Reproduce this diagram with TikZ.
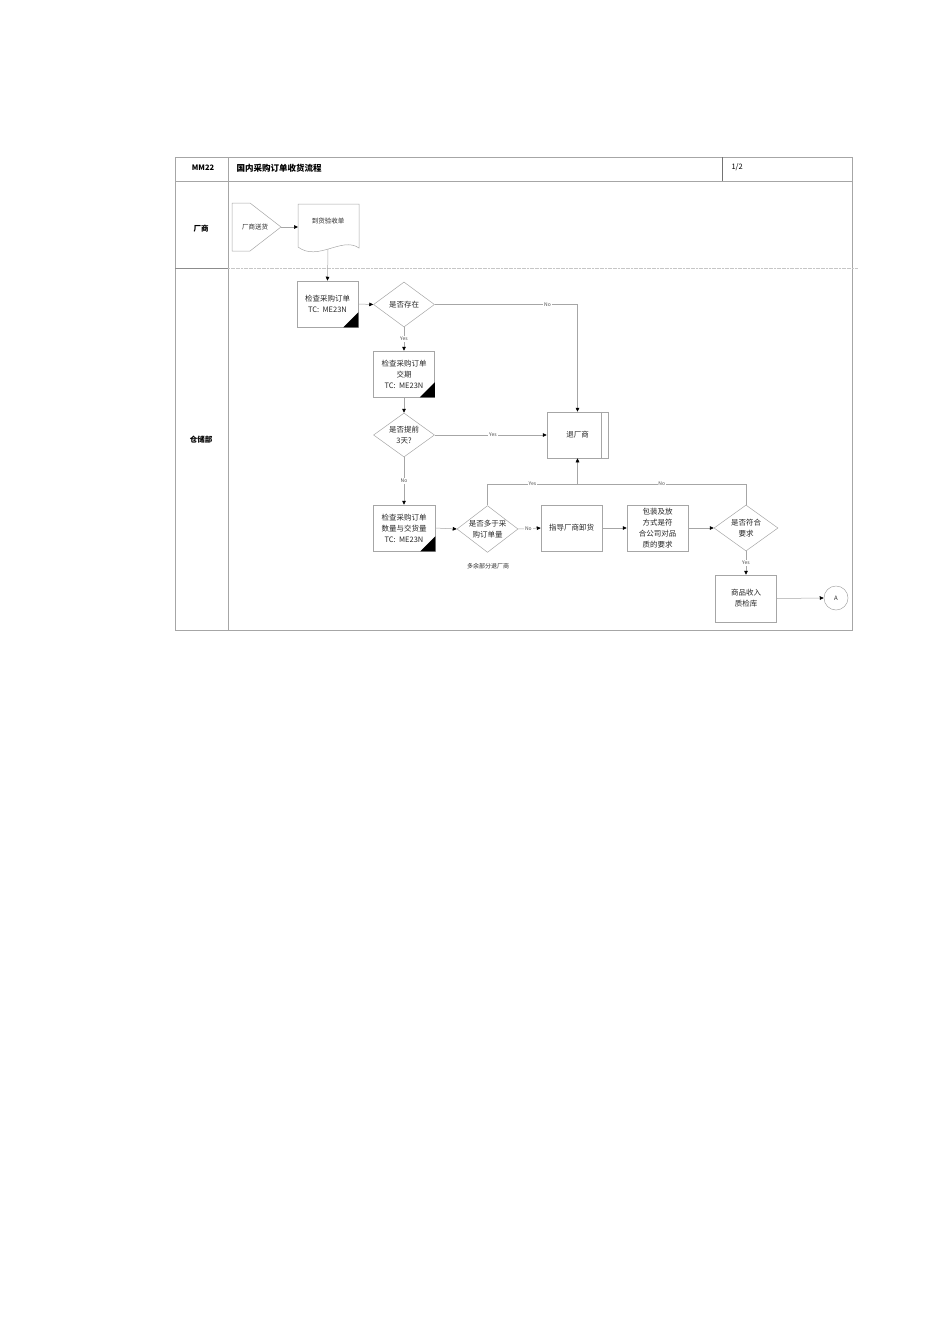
\documentclass[tikz,border=0pt]{standalone}
\usepackage{fontspec}
\newfontfamily\cjk{Noto Sans CJK SC}
\usetikzlibrary{shapes.geometric,arrows.meta}
\begin{document}
\begin{tikzpicture}[x=1pt,y=-1pt,
  line/.style={draw=gray!70,line width=0.5pt},
  arr/.style={line,-{Triangle[length=4pt,width=3.6pt,color=black]}},
  frame/.style={draw=gray!70,line width=0.6pt},
  txt/.style={font=\cjk\fontsize{7.5}{11}\selectfont,text=black!85,align=center},
  boxx/.style={txt,rectangle,draw=gray!70,line width=0.5pt,minimum width=61pt,minimum height=46pt,inner sep=1pt},
  dia/.style={txt,diamond,draw=gray!70,line width=0.5pt,minimum width=61pt,minimum height=45pt,inner sep=0pt,aspect=1.3},
  lab/.style={font=\cjk\fontsize{5}{5}\selectfont,fill=white,inner sep=0.8pt,text=black!70},
  head/.style={font=\cjk\bfseries\fontsize{7.5}{9}\selectfont,text=black},
]
\useasboundingbox (0,0) rectangle (950,1344);

% frame
\draw[frame] (175,157) rectangle (852,630);
\draw[frame] (175,181) -- (852,181);
\draw[frame] (228,157) -- (228,630);
\draw[draw=gray!90!black,line width=0.6pt] (722,157) -- (722,181);
\draw[draw=gray!90,line width=0.6pt] (175,268) -- (228,268);
\draw[draw=gray!45,line width=0.6pt,dash pattern=on 2pt off 0.6pt] (228,268) -- (858,268);

\node[head] (code) at (203,168) {MM22};
\node[head,font=\cjk\bfseries\fontsize{8.5}{10}\selectfont,anchor=west] (title) at (233,168) {国内采购订单收货流程};
\node[head,anchor=west,font=\cjk\fontsize{7.5}{9}\selectfont] (page) at (728,167) {1/2};
\node[head] (lane1) at (201,229) {厂商};
\node[head] (lane2) at (201,440) {仓储部};

% supplier lane
\draw[line] (232,203) -- (250,203) -- (281,227) -- (250,251) -- (232,251) -- cycle;
\node[txt,font=\cjk\fontsize{6.5}{8}\selectfont] (send) at (255,227) {厂商送货};
\coordinate (sendtip) at (281,227);
\draw[line] (298,247) -- (298,204) -- (359,204) -- (359,248)
  .. controls (342,236) and (318,262) .. (298,247);
\node[txt,font=\cjk\fontsize{6.5}{8}\selectfont] (doc) at (328,221) {到货验收单};
\coordinate (docin) at (298,227);
\coordinate (docout) at (328,249);
\draw[arr] (sendtip) -- (docin);

% warehouse lane
\node[boxx] (b1) at (327.5,304) {检查采购订单\\TC:\ \ ME23N};
\node[dia] (d1) at (404,304.5) {是否存在};
\node[boxx] (b2) at (404,374) {检查采购订单\\交期\\TC:\ \ ME23N};
\node[dia,minimum height=44pt] (d2) at (404,435) {是否提前\\3天?};
\node[boxx] (rtn) at (577.5,435) {退厂商};
\draw[line] ([xshift=-7pt]rtn.north east) -- ([xshift=-7pt]rtn.south east);
\node[boxx,minimum width=62pt] (b3) at (404,528) {检查采购订单\\数量与交货量\\TC:\ \ ME23N};
\node[dia,minimum height=46pt] (d3) at (487.5,529) {是否多于采\\购订单量};
\node[boxx] (guide) at (571.5,528) {指导厂商卸货};
\node[boxx] (pack) at (657.5,528) {包装及放\\方式是符\\合公司对品\\质的要求};
\node[dia,minimum width=64pt,minimum height=46pt] (d4) at (746,528) {是否符合\\要求};
\node[boxx,minimum height=47pt] (store) at (746,598.5) {商品收入\\质检库};
\node[txt,circle,draw=gray!70,line width=0.5pt,minimum size=24pt,inner sep=0pt,font=\cjk\fontsize{6}{7}\selectfont] (A) at (836,598) {A};
\node[txt,font=\cjk\fontsize{6}{8}\selectfont] (extra) at (488,566) {多余部分退厂商};

\foreach \b in {b1,b2,b3}{
  \fill[black] (\b.south east) -- ++(0,-15) -- ++(-15,15) -- cycle;
}

\coordinate (j) at (577.5,484);

\draw[arr] (docout) -- (b1.north);
\draw[arr] (b1.east) -- (d1.west);
\draw[arr] (d1.east) -- (577.5,304.5) node[lab,pos=0.79] {No} -- (rtn.north);
\draw[arr] (d1.south) -- node[lab] {Yes} (b2.north);
\draw[arr] (b2.south) -- (d2.north);
\draw[arr] (d2.east) -- node[lab,pos=0.52] {Yes} (rtn.west);
\draw[arr] (d2.south) -- node[lab] {No} (b3.north);
\draw[arr] (b3.east) -- (d3.west);
\draw[line] (d3.north) |- node[lab,pos=0.75] {Yes} (j);
\draw[line] (d4.north) |- node[lab,pos=0.75] {No} (j);
\draw[arr] (j) -- (rtn.south);
\draw[arr] (d3.east) -- node[lab,pos=0.45] {No} (guide.west);
\draw[arr] (guide.east) -- (pack.west);
\draw[arr] (pack.east) -- (d4.west);
\draw[arr] (d4.south) -- node[lab] {Yes} (store.north);
\draw[arr] (store.east) -- (A.west);
\end{tikzpicture}
\end{document}
